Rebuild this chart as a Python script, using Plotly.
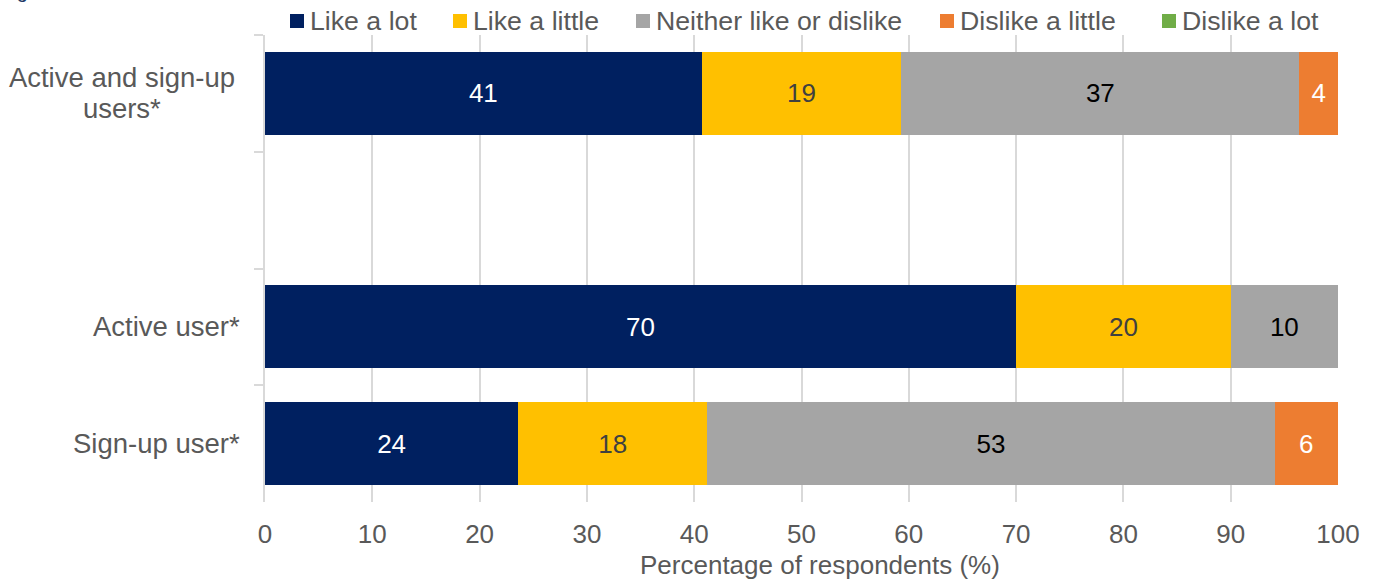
import plotly.graph_objects as go

# ---- data ----
categories = ["Active and sign-up<br>users*", " ", "Active user*", "Sign-up user*"]
series_names = ["Like a lot", "Like a little", "Neither like or dislike", "Dislike a little", "Dislike a lot"]
like_a_lot = [40.7, None, 70.0, 23.6]
like_a_little = [18.6, None, 20.0, 17.6]
neither = [37.1, None, 10.0, 52.9]
dislike_a_little = [3.6, None, None, 5.9]
dislike_a_lot = [None, None, None, None]
series_values = [like_a_lot, like_a_little, neither, dislike_a_little, dislike_a_lot]
x_ticks = [0, 10, 20, 30, 40, 50, 60, 70, 80, 90, 100]

# ---- styles ----
colors = ["#002060", "#FFC000", "#A5A5A5", "#ED7D31", "#70AD47"]
text_colors = ["#FFFFFF", "#404040", "#000000", "#FFFFFF", "#FFFFFF"]
FONT = "Liberation Sans, Arial, sans-serif"
GRID = "#D9D9D9"
LABEL = "#595959"

# plot area in pixels
PL, PR, PT, PB = 265, 1338, 35, 502
W, H = PR - PL, PB - PT


def px_x(p):
    return (p - PL) / W


def px_y(p):
    return (PB - p) / H


fig = go.Figure()
for name, vals, col, tcol in zip(series_names, series_values, colors, text_colors):
    fig.add_trace(go.Bar(
        name=name, y=categories, x=vals, orientation="h",
        marker=dict(color=col, line=dict(width=0)),
        texttemplate="%{x:.0f}", textposition="inside", insidetextanchor="middle",
        textangle=0, constraintext="none",
        textfont=dict(family=FONT, size=26, color=tcol),
        showlegend=False, hoverinfo="skip",
    ))

fig.update_layout(
    width=1378, height=582,
    margin=dict(l=PL, r=1378 - PR, t=PT, b=582 - PB, pad=0),
    barmode="stack", bargap=0.29,
    plot_bgcolor="white", paper_bgcolor="white",
    font=dict(family=FONT, color=LABEL),
    showlegend=False,
    xaxis=dict(
        range=[0, 100], tickvals=x_ticks, ticktext=[str(v) for v in x_ticks],
        showgrid=True, gridcolor=GRID, gridwidth=2, zeroline=False,
        showline=False, ticks="", tickfont=dict(family=FONT, size=26, color=LABEL),
        ticklabelstandoff=14,
    ),
    yaxis=dict(
        type="category", categoryorder="array", categoryarray=categories,
        range=[len(categories) - 0.5, -0.5],
        showgrid=False, zeroline=False, showline=True, linecolor=GRID, linewidth=2,
        ticks="outside", tickson="boundaries", ticklen=9, tickwidth=2, tickcolor=GRID,
        showticklabels=False,
    ),
    yaxis2=dict(
        overlaying="y", anchor="x", side="left",
        range=[len(categories) - 0.5, -0.5],
        tickvals=[i - 0.5 for i in range(len(categories) + 1)],
        ticks="inside", ticklen=8, tickwidth=2, tickcolor=GRID,
        showticklabels=False, showgrid=False, zeroline=False, showline=False,
    ),
)

annotations = []
# category labels
LINE_GAP = 31
for cat in categories:
    if not cat.strip():
        continue
    lines = cat.split("<br>")
    n = len(lines)
    for i, line in enumerate(lines):
        ann = dict(
            text=line, xref="paper", x=0, xanchor="right", xshift=-23,
            yref="y", y=cat, yanchor="middle", yshift=((n - 1) / 2 - i) * LINE_GAP,
            showarrow=False, font=dict(family=FONT, size=27.5, color=LABEL),
        )
        if n > 1:
            ann.update(width=236, align="center")
        annotations.append(ann)

# x axis title
annotations.append(dict(
    text="Percentage of respondents (%)", xref="paper", yref="paper",
    x=px_x(820), y=px_y(565), xanchor="center", yanchor="middle",
    showarrow=False, font=dict(family=FONT, size=26, color=LABEL),
))

# cropped figure title at very top left (only its descender shows in the reference)
annotations.append(dict(
    text="Figure", xref="paper", yref="paper",
    x=px_x(-2), y=px_y(4), xanchor="left", yanchor="bottom",
    showarrow=False, font=dict(family=FONT, size=20, color="#203864"),
))

# legend (manual)
legend_x = [290, 453, 636, 940, 1162]
shapes = []
for name, col, lx in zip(series_names, colors, legend_x):
    shapes.append(dict(
        type="rect", xref="paper", yref="paper",
        x0=px_x(lx), x1=px_x(lx + 14), y0=px_y(28), y1=px_y(14),
        fillcolor=col, line=dict(width=0), layer="above",
    ))
    annotations.append(dict(
        text=name, xref="paper", yref="paper",
        x=px_x(lx + 18), y=px_y(21), xanchor="left", yanchor="middle",
        showarrow=False, font=dict(family=FONT, size=26.7, color=LABEL),
    ))

fig.update_layout(annotations=annotations, shapes=shapes)

fig.write_html(
    "out.html",
    config={"displayModeBar": False},
    post_script="document.body.style.margin='0';document.body.style.overflow='hidden';",
)
